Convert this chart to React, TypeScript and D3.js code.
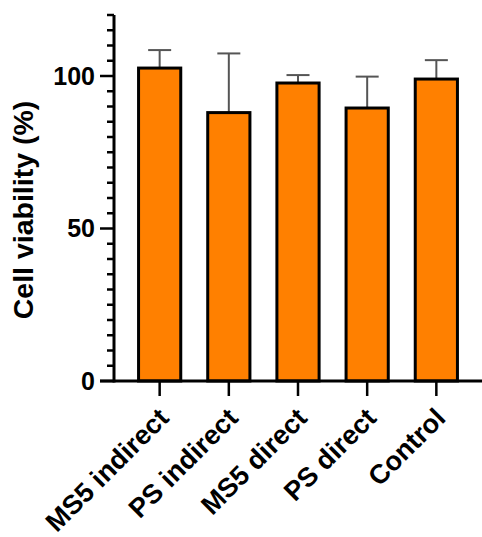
import React from "react";
import * as d3 from "d3";

const categories = ["MS5 indirect", "PS indirect", "MS5 direct", "PS direct", "Control"];
const means = [102.6, 88.0, 97.7, 89.5, 99.0];
const sds = [5.9, 19.4, 2.6, 10.3, 6.2];
const majorTicks = [0, 50, 100];

const W = 482;
const H = 537;
const FONT = "'Liberation Sans', Arial, sans-serif";

export default function App() {
  const x0 = 114;
  const y = d3.scaleLinear().domain([0, 120]).range([381, 15]);
  const x = d3
    .scaleBand<string>()
    .domain(categories)
    .range([x0, 482])
    .paddingInner(0.39)
    .paddingOuter(0.355);
  const minorTicks = d3.range(0, 121, 5).filter((v) => v % 50 !== 0);
  const bw = x.bandwidth();
  const capW = 23;

  return (
    <svg
      width={W}
      height={H}
      style={{ position: "absolute", left: 0, top: 0, background: "#fff" }}
      fontFamily={FONT}
    >
      {categories.map((c, i) => {
        const bx = x(c)!;
        const cx = bx + bw / 2;
        const top = y(means[i]);
        const et = y(means[i] + sds[i]);
        return (
          <g key={c}>
            <line x1={cx} x2={cx} y1={top} y2={et} stroke="#555" strokeWidth={2} />
            <line x1={cx - capW / 2} x2={cx + capW / 2} y1={et} y2={et} stroke="#555" strokeWidth={2} />
            <rect
              x={bx}
              y={top}
              width={bw}
              height={y(0) - top}
              fill="#FF8000"
              stroke="#000"
              strokeWidth={3}
            />
          </g>
        );
      })}
      <line x1={x0} x2={x0} y1={y(120)} y2={y(0) + 1.5} stroke="#000" strokeWidth={3} />
      {minorTicks.map((v) => (
        <line key={v} x1={x0 - 7} x2={x0} y1={y(v)} y2={y(v)} stroke="#000" strokeWidth={2.5} />
      ))}
      {majorTicks.map((v) => (
        <g key={v}>
          <line x1={x0 - 14} x2={x0} y1={y(v)} y2={y(v)} stroke="#000" strokeWidth={2.5} />
          <text
            x={x0 - 19}
            y={y(v)}
            dy="0.35em"
            textAnchor="end"
            fontSize={25}
            fontWeight="bold"
            fill="#000"
          >
            {v}
          </text>
        </g>
      ))}
      <text
        transform={`translate(23,210) rotate(-90)`}
        textAnchor="middle"
        dy="0.35em"
        fontSize={28.5}
        fontWeight="bold"
        fill="#000"
      >
        Cell viability (%)
      </text>
      <line x1={x0 - 14} x2={W} y1={y(0)} y2={y(0)} stroke="#000" strokeWidth={3} />
      {categories.map((c) => {
        const cx = x(c)! + bw / 2;
        return (
          <g key={c}>
            <line x1={cx} x2={cx} y1={y(0)} y2={y(0) + 15} stroke="#000" strokeWidth={2.5} />
            <text
              transform={`translate(${cx + 4},${y(0) + 32}) rotate(-45)`}
              textAnchor="end"
              dy="0.35em"
              fontSize={27}
              fontWeight="bold"
              fill="#000"
            >
              {c}
            </text>
          </g>
        );
      })}
    </svg>
  );
}
